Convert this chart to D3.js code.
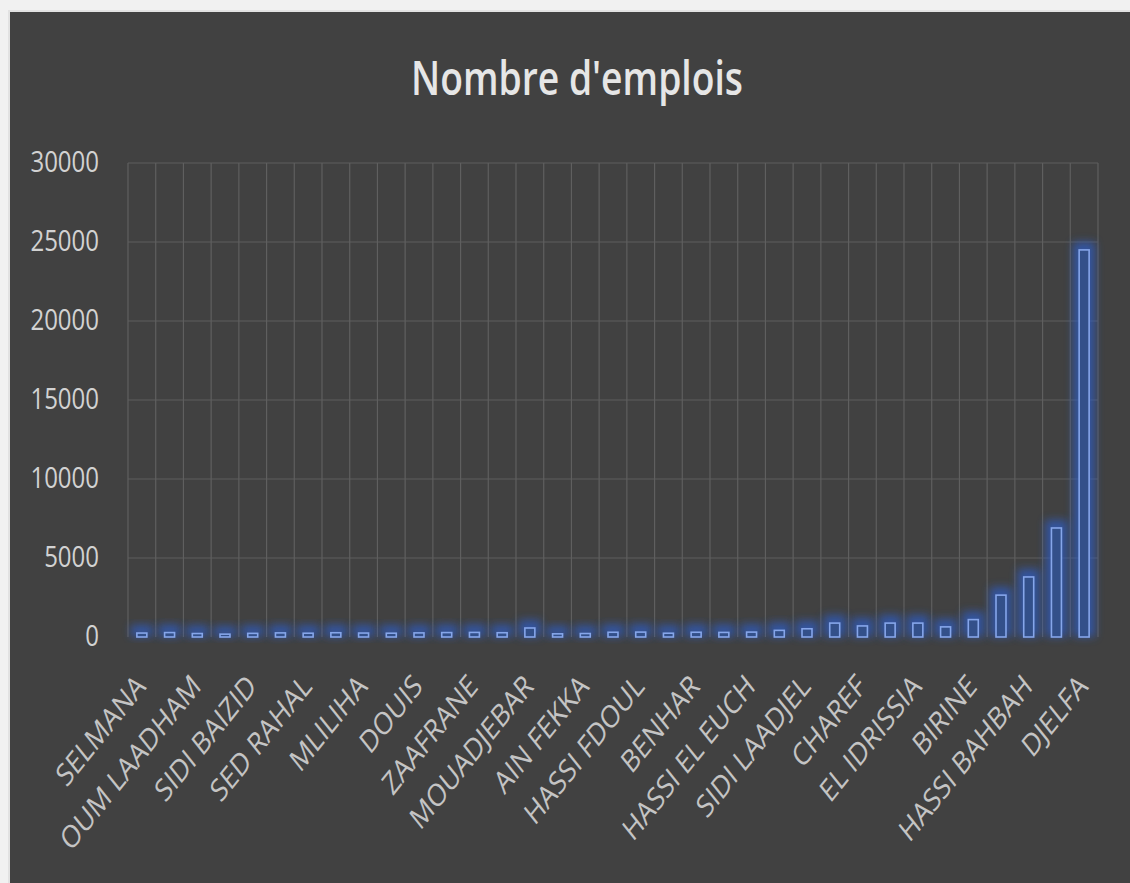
<!DOCTYPE html>
<html>
<head>
<meta charset="utf-8">
<script src="https://cdn.jsdelivr.net/npm/d3@7"></script>
<style>
  html, body { margin: 0; padding: 0; background: #f1f1f1; }
  svg { display: block; }
</style>
</head>
<body>
<svg id="chart" width="1130" height="883"></svg>
<script>
// Communes, in chart order (only every other name is printed on the axis)
const communes = [
  "SELMANA", "BOUIRA LAHDAB", "OUM LAADHAM", "AMOURAH", "SIDI BAIZID",
  "DELDOUL", "SED RAHAL", "GUETTARA", "MLILIHA", "AIN CHOUHADA",
  "DOUIS", "BENYAGOUB", "ZAAFRANE", "GUERNINI", "MOUADJEBAR",
  "EL KHEMIS", "AIN FEKKA", "ZACCAR", "HASSI FDOUL", "TADMIT",
  "BENHAR", "AIN MAABED", "HASSI EL EUCH", "FEIDH EL BOTMA", "SIDI LAADJEL",
  "DAR CHIOUKH", "CHAREF", "HAD SAHARY", "EL IDRISSIA", "AIN EL IBEL",
  "BIRINE", "MESSAAD", "HASSI BAHBAH", "AIN OUSSERA", "DJELFA"
];

// Number of jobs per commune
const emplois = [
  250, 280, 220, 180, 230,
  260, 240, 270, 250, 240,
  260, 280, 290, 270, 570,
  200, 220, 300, 310, 240,
  300, 290, 310, 420, 520,
  880, 700, 880, 880, 640,
  1100, 2650, 3800, 6900, 24500
];

const yTicks = [0, 5000, 10000, 15000, 20000, 25000, 30000];

const W = 1130, H = 883;
const margin = { left: 128, right: 30, top: 163, bottom: 246 };
const svg = d3.select("#chart");
const stretch = 1.25; // text is drawn slightly taller than wide
const font = "'Open Sans', 'Noto Sans', sans-serif";

// Card background
svg.append("rect").attr("x", 0).attr("y", 0).attr("width", W).attr("height", H).attr("fill", "#f1f1f1");
svg.append("rect").attr("x", 8).attr("y", 10).attr("width", W).attr("height", H)
  .attr("fill", "#d8d8d8").attr("opacity", 0.6);
svg.append("rect").attr("x", 10).attr("y", 12).attr("width", W).attr("height", H).attr("fill", "#414141");

const defs = svg.append("defs");
const glow = defs.append("filter").attr("id", "glow")
  .attr("x", "-100%").attr("y", "-50%").attr("width", "300%").attr("height", "200%");
glow.append("feGaussianBlur").attr("stdDeviation", 4.5);

const x = d3.scaleBand()
  .domain(communes)
  .range([margin.left, W - margin.right - 2])
  .paddingInner(0.64)
  .paddingOuter(0.32);

const y = d3.scaleLinear()
  .domain([0, 30000])
  .range([H - margin.bottom, margin.top]);

const step = x.step();
const x0 = x.range()[0];
const x1 = x.range()[1];

// Grid
const grid = svg.append("g").attr("stroke", "#5f5f5f").attr("stroke-width", 1.2);
grid.selectAll("line.h").data(yTicks.filter(d => d > 0)).join("line")
  .attr("class", "h")
  .attr("x1", x0).attr("x2", x1)
  .attr("y1", d => y(d)).attr("y2", d => y(d));
grid.selectAll("line.v").data(d3.range(communes.length + 1)).join("line")
  .attr("class", "v")
  .attr("x1", i => x0 + i * step).attr("x2", i => x0 + i * step)
  .attr("y1", y(30000)).attr("y2", y(0));

// Bars: soft blue halo, then outlined bar
const bars = svg.append("g");
bars.selectAll("rect.halo").data(communes).join("rect")
  .attr("class", "halo")
  .attr("x", d => x(d) - 6)
  .attr("y", (d, i) => y(emplois[i]) - 8)
  .attr("width", x.bandwidth() + 12)
  .attr("height", (d, i) => y(0) - y(emplois[i]) + 8)
  .attr("fill", "#2f5cc0")
  .attr("opacity", 0.75)
  .attr("filter", "url(#glow)");
bars.selectAll("rect.bar").data(communes).join("rect")
  .attr("class", "bar")
  .attr("x", d => x(d))
  .attr("y", (d, i) => y(emplois[i]))
  .attr("width", x.bandwidth())
  .attr("height", (d, i) => y(0) - y(emplois[i]))
  .attr("fill", "#33508a")
  .attr("stroke", "#86a6ea")
  .attr("stroke-width", 1.6);

// Y axis labels
const yAxis = d3.axisLeft(y).tickValues(yTicks).tickFormat(d3.format("d"))
  .tickSize(0).tickPadding(0);
const yg = svg.append("g").attr("transform", "translate(99,0)").call(yAxis);
yg.select(".domain").remove();
yg.selectAll(".tick text")
  .attr("fill", "#d2d2d2")
  .attr("font-family", font)
  .attr("font-size", 24)
  .attr("text-anchor", "end")
  .attr("x", 0)
  .attr("dy", null)
  .attr("y", 8 / stretch)
  .attr("transform", `scale(1,${stretch})`);

// X axis labels (every other commune)
const xAxis = d3.axisBottom(x)
  .tickValues(communes.filter((d, i) => i % 2 === 0))
  .tickSize(0).tickPadding(0);
const xg = svg.append("g").attr("transform", `translate(0,${y(0)})`).call(xAxis);
xg.select(".domain").remove();
xg.selectAll(".tick text")
  .attr("fill", "#c4c4c4")
  .attr("font-family", font)
  .attr("font-size", 25)
  .attr("text-anchor", "end")
  .attr("y", null).attr("dy", null)
  .attr("transform", `translate(5,51) scale(1,${stretch}) rotate(-45)`);

// Title
svg.append("text")
  .attr("x", 577)
  .attr("y", 95 / stretch)
  .attr("text-anchor", "middle")
  .attr("fill", "#e6e6e6")
  .attr("font-family", font)
  .attr("font-weight", 600)
  .attr("font-size", 38)
  .attr("transform", `scale(1,${stretch})`)
  .attr("textLength", 332)
  .attr("lengthAdjust", "spacingAndGlyphs")
  .text("Nombre d'emplois");
</script>
</body>
</html>
